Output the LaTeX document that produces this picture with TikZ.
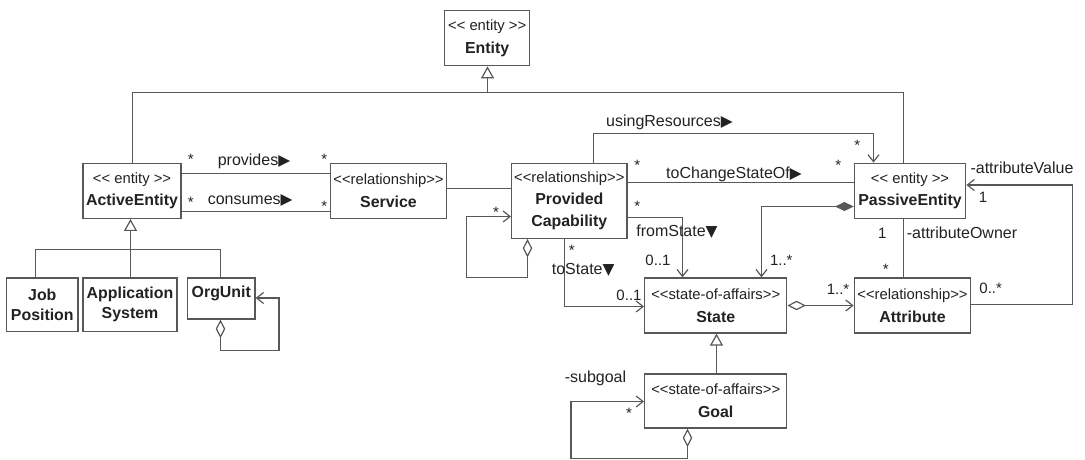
\documentclass[tikz,border=0pt]{standalone}
\usepackage{fontspec}
\setmainfont{Liberation Sans}
\newfontfamily\symf{DejaVu Sans}
\usetikzlibrary{arrows.meta}
\definecolor{lc}{RGB}{88,88,88}
\definecolor{tc}{RGB}{34,34,34}
\newcommand\umlL{<\kern0pt<}
\newcommand\umlG{>\kern0pt>}
\newcommand\umlR{{\symf\fontsize{15.5}{15.5}\selectfont ▶}}
\newcommand\umlD{{\symf\fontsize{15.5}{15.5}\selectfont ▼}}
\newcommand\nm[1]{{\bfseries\fontsize{15.9}{22.7}\selectfont #1}}
\tikzset{
 ln/.style={draw=lc, line width=1.2pt},
 cls/.style={draw=lc, line width=1.3pt, fill=white, inner sep=0pt, align=center, text=tc, font=\fontsize{14.8}{22.7}\selectfont},
 lab/.style={text=tc, inner sep=0pt, font=\fontsize{16}{16}\selectfont},
 mul/.style={text=tc, inner sep=0pt, font=\fontsize{15}{15}\selectfont},
 nav/.style={-{Straight Barb[length=7pt,width=11pt,line width=1.2pt]}},
 gen/.style={-{Triangle[open,length=12pt,width=13pt,fill=white,line width=1.2pt]}},
 aggnav/.style={{Diamond[open,length=18.5pt,width=9.5pt,fill=white,line width=1.2pt]}-{Straight Barb[length=7pt,width=11pt,line width=1.2pt]}},
 cmpnav/.style={{Diamond[length=18.5pt,width=9pt,fill=lc,line width=1pt]}-{Straight Barb[length=7pt,width=11pt,line width=1.2pt]}},
}
\begin{document}
\begin{tikzpicture}[x=1pt,y=-1pt]
\fill[white] (0,0) rectangle (1085,459);
\useasboundingbox (0,0) rectangle (1085,459);
% classes
\node[cls, minimum width=85, minimum height=55] (ent) at (487.2,38.2) {\umlL{} entity \umlG\\\nm{Entity}};
\node[cls, minimum width=98, minimum height=55] (ae) at (132,190.8) {\umlL{} entity \umlG\\\nm{ActiveEntity}};
\node[cls, minimum width=115.6, minimum height=55] (sv) at (388.5,190.8) {\umlL relationship\umlG\\\nm{Service}};
\node[cls, minimum width=115.3, minimum height=75, font=\fontsize{14.8}{21.7}\selectfont] (pc) at (569.3,200.8) {\umlL relationship\umlG\\\nm{Provided}\\\nm{Capability}};
\node[cls, minimum width=111.4, minimum height=55] (pe) at (910,190.8) {\umlL{} entity \umlG\\\nm{PassiveEntity}};
\node[cls, minimum width=71.3, minimum height=53.3, font=\fontsize{14.8}{20}\selectfont] (jp) at (42.3,304.7) {\nm{Job}\\\nm{Position}};
\node[cls, minimum width=94, minimum height=53.3, font=\fontsize{14.8}{20}\selectfont] (as) at (130,304.7) {\nm{Application}\\\nm{System}};
\node[cls, minimum width=67.3, minimum height=41, text depth=13.3pt] (ou) at (221.3,298.5) {\nm{OrgUnit}};
\node[cls, minimum width=142, minimum height=55] (st) at (715.7,305.5) {\umlL state-of-affairs\umlG\\\nm{State}};
\node[cls, minimum width=116.4, minimum height=55] (at) at (912.5,305.5) {\umlL relationship\umlG\\\nm{Attribute}};
\node[cls, minimum width=142, minimum height=54] (gl) at (715.7,401) {\umlL state-of-affairs\umlG\\\nm{Goal}};
% connectors
\coordinate (g1) at (487.5,92.5);
\draw[ln] ([xshift=0.5]ae.north) |- (g1) -| ([xshift=-6.5]pe.north);
\draw[ln,gen] (g1) -- (g1 |- ent.south);
\draw[ln] ([yshift=17.3]ae.east) -- ([yshift=17.3]sv.west);
\draw[ln] ([yshift=-20.7]ae.east) -- ([yshift=-20.7]sv.west);
\draw[ln] ([yshift=2.3]sv.east) -- ([yshift=12.3]pc.west);
\draw[ln,aggnav] ([xshift=-41.8]pc.south) -- ++(0,38.2) -- ++(-61,0) |- ([yshift=-15.7]pc.west);
\draw[ln,nav] ([xshift=24.2]pc.north) -- ++(0,-28.8) -| ([xshift=-36.5]pe.north);
\draw[ln] ([yshift=18.3]pc.east) -- ([yshift=8.3]pe.west);
\draw[ln,nav] ([yshift=-16.7]pc.east) -| ([xshift=-33.2]st.north);
\draw[ln,nav] ([xshift=-4.8]pc.south) |- ([yshift=-1]st.west);
\draw[ln,cmpnav] ([yshift=-15.7]pe.west) -| ([xshift=45.8]st.north);
\draw[ln,aggnav] (st.east) -- (at.west);
\draw[ln] ([xshift=-6.5]pe.south) -- ([xshift=-9]at.north);
\draw[ln,nav] ([yshift=1]at.east) -- ++(100.8,0) |- ([yshift=5.8]pe.east);
\coordinate (g2) at (130.5,249.5);
\draw[ln] ([xshift=-6.8]jp.north) |- (g2) -| ([xshift=-0.8]ou.north);
\draw[ln] (as.north -| g2) -- (g2);
\draw[ln,gen] (g2) -- (g2 |- ae.south);
\draw[ln,aggnav] ([xshift=-0.8]ou.south) |- ++(58.4,31) |- ([yshift=0.5]ou.east);
\draw[ln,gen] ([xshift=0.8]gl.north) -- ([xshift=0.8]st.south);
\draw[ln,aggnav] ([xshift=-28.2]gl.south) -- ++(0,30) -- ++(-116.6,0) |- ([yshift=-0.5]gl.west);
% labels
\node[lab] (lprov) at (254,161.7) {provides\umlR};
\node[lab] (lcons) at (250.2,200) {consumes\umlR};
\node[lab] (luse) at (669.5,122.7) {usingResources\umlR};
\node[lab] (lchg) at (734,174) {toChangeStateOf\umlR};
\node[lab] (lfrom) at (677,232) {fromState\umlD};
\node[lab] (lto) at (583.2,270) {toState\umlD};
\node[lab] (lsub) at (595.5,378) {-subgoal};
\node[lab] (lav) at (1022,167.7) {-attributeValue};
\node[lab] (lao) at (962,233) {-attributeOwner};
% multiplicities
\node[mul] (m1) at (190.7,159) {*};
\node[mul] (m2) at (324.3,159) {*};
\node[mul] (m3) at (190.7,202) {*};
\node[mul] (m4) at (324.3,206.3) {*};
\node[mul] (m5) at (496,212.3) {*};
\node[mul] (m6) at (637.3,165.7) {*};
\node[mul] (m7) at (838.3,165.3) {*};
\node[mul] (m8) at (857.3,145.7) {*};
\node[mul] (m9) at (637.3,206.3) {*};
\node[mul] (m10) at (571.7,250.3) {*};
\node[mul] (m11) at (885.7,269.7) {*};
\node[mul] (m12) at (629,413.7) {*};
\node[mul] (m13) at (658,260.7) {0..1};
\node[mul] (m14) at (629,295.7) {0..1};
\node[mul] (m15) at (781.3,260.7) {1..*};
\node[mul] (m16) at (838,289) {1..*};
\node[mul] (m17) at (882.3,233) {1};
\node[mul] (m18) at (983,197.3) {1};
\node[mul] (m19) at (990.7,288.3) {0..*};
\end{tikzpicture}
\end{document}
